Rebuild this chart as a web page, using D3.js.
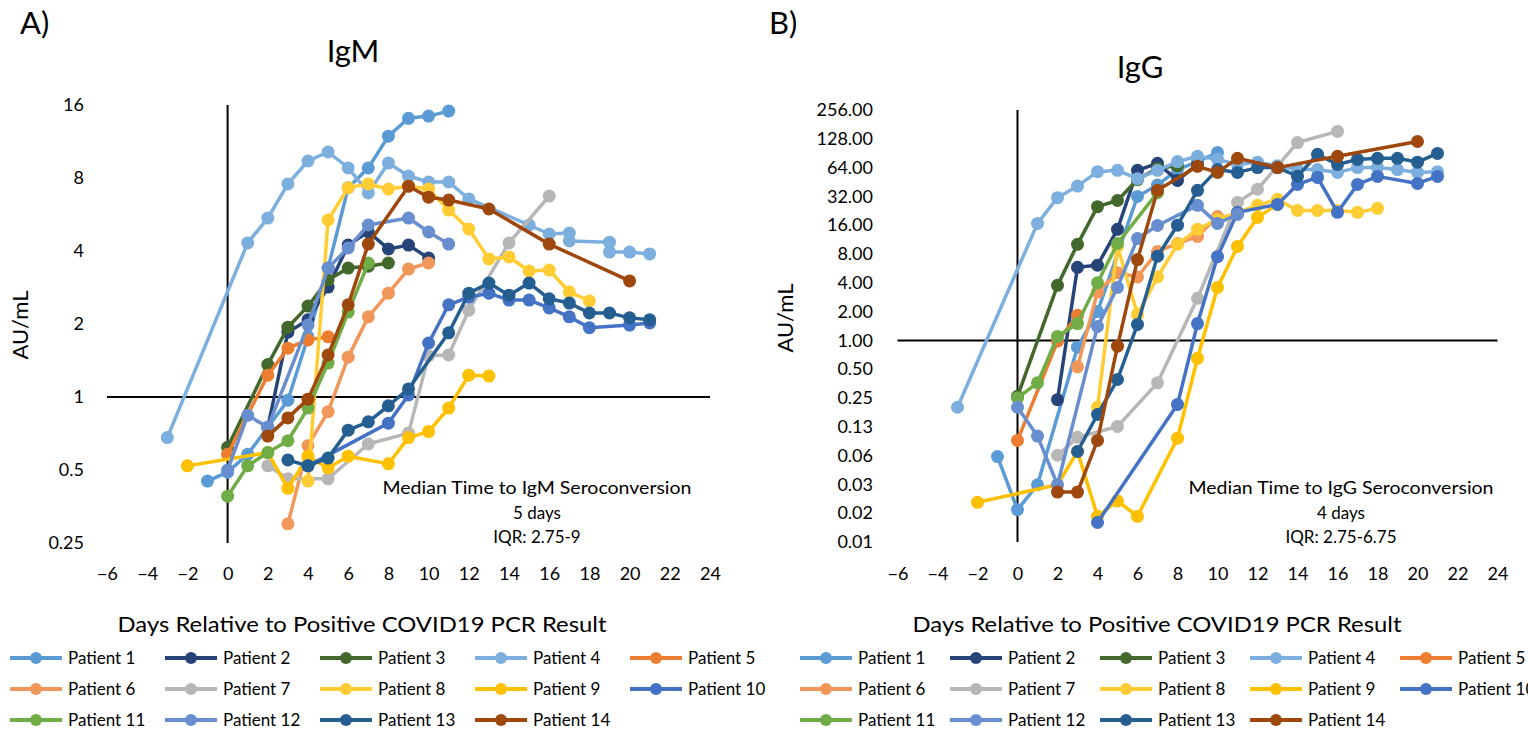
<!DOCTYPE html>
<html><head><meta charset="utf-8">
<script src="https://cdn.jsdelivr.net/npm/d3@7"></script>
<style>
body{margin:0;background:#fff;}
svg text{font-family:Lato,"Liberation Sans",sans-serif;fill:#000;}
</style></head>
<body><svg id="c" width="1528" height="734"></svg>
<script>
const patients = ["Patient 1","Patient 2","Patient 3","Patient 4","Patient 5","Patient 6","Patient 7",
  "Patient 8","Patient 9","Patient 10","Patient 11","Patient 12","Patient 13","Patient 14"];
const colors = ["#5B9BD5","#264478","#43682B","#7CAFDD","#ED7D31","#F1975A","#B7B7B7",
  "#FFCD33","#FFC000","#4472C4","#70AD47","#698ED0","#255E91","#9E480E"];

// IgM (AU/mL) by day relative to PCR: [day, value]
const igmP1 = [[-1,0.45],[0,0.49],[1,0.58],[3,0.97],[4,1.77],[5,3.4],[6,7.3],[7,8.8],[8,11.9],[9,14.1],[10,14.4],[11,15.1]];
const igmP2 = [[2,0.75],[3,1.85],[4,2.08],[5,2.84],[6,4.23],[7,4.8],[8,4.08],[9,4.23],[10,3.74]];
const igmP3 = [[0,0.62],[2,1.36],[3,1.94],[4,2.37],[5,3.04],[6,3.4],[7,3.46],[8,3.57]];
const igmP4 = [[-3,0.68],[1,4.32],[2,5.47],[3,7.56],[4,9.4],[5,10.24],[6,8.8],[7,6.94],[8,9.22],[9,8.15],[10,7.7],[11,7.7],[12,6.56],[15,5.12],[16,4.7],[17,4.74],[17,4.4],[19,4.35],[19,3.96],[20,3.96],[21,3.89]];
const igmP5 = [[0,0.58],[2,1.23],[3,1.59],[4,1.72],[5,1.77]];
const igmP6 = [[3,0.3],[4,0.63],[5,0.87],[6,1.46],[7,2.14],[8,2.68],[9,3.37],[10,3.57]];
const igmP7 = [[2,0.52],[3,0.46],[5,0.46],[7,0.64],[9,0.71],[10,1.48],[11,1.49],[12,2.28],[14,4.32],[16,6.74]];
const igmP8 = [[4,0.45],[5,5.37],[6,7.3],[7,7.56],[8,7.2],[9,7.4],[10,7.2],[11,5.9],[12,4.93],[13,3.71],[14,3.78],[15,3.31],[16,3.34],[17,2.71],[18,2.49]];
const igmP9 = [[-2,0.52],[2,0.59],[3,0.42],[4,0.57],[5,0.51],[6,0.57],[8,0.53],[9,0.68],[10,0.72],[11,0.9],[12,1.23],[13,1.22]];
const igmP10 = [[4,0.52],[8,0.78],[9,1.02],[10,1.67],[11,2.4],[12,2.58],[13,2.68],[14,2.51],[15,2.51],[16,2.33],[17,2.14],[18,1.93],[20,1.98],[21,2.02]];
const igmP11 = [[0,0.39],[1,0.52],[2,0.59],[3,0.66],[4,0.9],[5,1.38],[6,2.24],[7,3.57]];
const igmP12 = [[0,0.5],[1,0.84],[2,0.75],[4,1.98],[5,3.4],[6,4.12],[7,5.12],[9,5.47],[10,4.79],[11,4.27]];
const igmP13 = [[3,0.55],[4,0.52],[5,0.56],[6,0.73],[7,0.79],[8,0.92],[9,1.08],[11,1.84],[12,2.68],[13,2.95],[14,2.63],[15,2.95],[16,2.54],[17,2.44],[18,2.22],[19,2.22],[20,2.12],[21,2.08]];
const igmP14 = [[2,0.69],[3,0.82],[4,0.98],[5,1.49],[6,2.4],[7,4.27],[9,7.4],[10,6.67],[11,6.49],[13,5.96],[16,4.27],[20,3.01]];

// IgG (AU/mL) by day relative to PCR: [day, value]
const iggP1 = [[-1,0.061],[0,0.017],[1,0.031],[3,0.85],[4,2.0],[6,32],[7,42],[8,61],[9,74],[10,92]];
const iggP2 = [[2,0.24],[3,5.8],[4,6.1],[5,14.5],[6,60],[7,71],[8,47],[9,69]];
const iggP3 = [[0,0.26],[2,3.76],[3,10.1],[4,25],[5,29],[6,48],[7,63],[8,67]];
const iggP4 = [[-3,0.2],[1,16.7],[2,31],[3,41],[4,58],[5,60],[6,49],[7,60],[8,74],[9,84],[10,78],[11,69],[12,73],[13,67],[14,61],[15,61],[16,57],[17,64],[18,64],[19,61],[20,57],[21,58]];
const iggP5 = [[0,0.09],[2,0.98],[3,1.83]];
const iggP6 = [[3,0.53],[4,3.2],[5,5.1],[6,4.6],[7,8.5],[8,10.3],[9,12.2],[10,19.7]];
const iggP7 = [[2,0.063],[3,0.097],[5,0.126],[7,0.36],[9,2.75],[11,27.7],[12,38],[14,117],[16,153]];
const iggP8 = [[4,0.2],[5,9.6],[6,1.87],[7,4.6],[8,10.1],[9,14.5],[10,18.4],[11,21.8],[12,25.8],[13,29.8],[14,22.8],[15,22.8],[16,22.8],[17,21.8],[18,24]];
const iggP9 = [[-2,0.0203],[2,0.031],[3,0.069],[4,0.0145],[5,0.021],[6,0.0145],[8,0.095],[9,0.65],[10,3.58],[11,9.6],[12,19.3],[13,26.4]];
const iggP10 = [[4,0.0125],[8,0.214],[9,1.5],[10,7.5],[11,21.8],[13,26.4],[14,42.7],[15,50.5],[16,21.8],[17,42.7],[18,51.8],[20,43.7],[21,51.8]];
const iggP11 = [[0,0.25],[1,0.36],[2,1.1],[3,1.5],[4,4.0],[5,10.3],[7,35]];
const iggP12 = [[0,0.2],[1,0.1],[2,0.031],[4,1.4],[5,3.58],[6,11.6],[7,15.9],[9,25.8],[10,16.7],[11,20.7]];
const iggP13 = [[3,0.069],[4,0.168],[5,0.39],[6,1.47],[7,7.6],[8,16],[9,37],[10,61],[11,57],[12,64],[13,64],[14,52],[15,88],[16,69],[17,78],[18,80],[19,80],[20,73],[21,90]];
const iggP14 = [[2,0.026],[3,0.026],[4,0.09],[5,0.87],[6,7.0],[7,37],[9,66],[10,57],[11,80],[13,64],[16,84],[20,120]];

const dayTicks = [-6,-4,-2,0,2,4,6,8,10,12,14,16,18,20,22,24];
const igmTicks = [16,8,4,2,1,0.5,0.25];
const igmTickLabels = ["16","8","4","2","1","0.5","0.25"];
const iggTicks = [256,128,64,32,16,8,4,2,1,0.5,0.25,0.125,0.0625,0.03125,0.015625,0.0078125];
const iggTickLabels = ["256.00","128.00","64.00","32.00","16.00","8.00","4.00","2.00","1.00","0.50","0.25","0.13","0.06","0.03","0.02","0.01"];

const igmSeries = [igmP1,igmP2,igmP3,igmP4,igmP5,igmP6,igmP7,igmP8,igmP9,igmP10,igmP11,igmP12,igmP13,igmP14];
const iggSeries = [iggP1,iggP2,iggP3,iggP4,iggP5,iggP6,iggP7,iggP8,iggP9,iggP10,iggP11,iggP12,iggP13,iggP14];

const svg = d3.select("#c");

function panel(cfg){
  const g = svg.append("g");
  const x = d3.scaleLinear().domain([-6,24]).range(cfg.xr);
  const y = d3.scaleLog().base(2).domain(cfg.yd).range(cfg.yr);

  // letter + title
  g.append("text").attr("x",cfg.letterX).attr("y",34).attr("font-size",31).text(cfg.letter);
  g.append("text").attr("x",cfg.titleX).attr("y",cfg.titleY).attr("font-size",31).attr("text-anchor","middle").text(cfg.title);

  // y axis labels
  const ya = g.append("g").attr("transform",`translate(${cfg.yLabX},0)`)
    .call(d3.axisLeft(y).tickValues(cfg.ticks).tickSize(0).tickPadding(0)
      .tickFormat((d,i)=>cfg.tickLabels[i]));
  ya.select(".domain").remove();
  ya.selectAll("text").attr("font-size",18).attr("font-family","Lato").attr("fill","#000");

  // x axis labels
  const xa = g.append("g").attr("transform",`translate(0,567)`)
    .call(d3.axisBottom(x).tickValues(dayTicks).tickSize(0).tickPadding(0));
  xa.select(".domain").remove();
  xa.selectAll("text").attr("font-size",18).attr("font-family","Lato").attr("fill","#000");

  // crossing lines
  g.append("line").attr("x1",x(0)).attr("x2",x(0)).attr("y1",cfg.yr[1]).attr("y2",cfg.yr[0])
    .attr("stroke","#000").attr("stroke-width",2);
  g.append("line").attr("x1",x(-6)).attr("x2",x(24)).attr("y1",y(1)).attr("y2",y(1))
    .attr("stroke","#000").attr("stroke-width",2);

  // axis titles
  g.append("text").attr("transform",`translate(${cfg.auX},${cfg.auY}) rotate(-90)`)
    .attr("text-anchor","middle").attr("font-size",22).text("AU/mL");
  g.append("text").attr("x",cfg.dayTitleX).attr("y",632).attr("text-anchor","middle")
    .attr("font-size",22).attr("textLength",489).attr("lengthAdjust","spacingAndGlyphs")
    .text("Days Relative to Positive COVID19 PCR Result");

  // annotation
  cfg.note.forEach((t,i)=>{
    const tx = g.append("text").attr("x",cfg.noteX).attr("y",494+i*24.5).attr("text-anchor","middle")
      .attr("font-size",17).text(t);
    if(i===0) tx.attr("textLength",cfg.noteW).attr("lengthAdjust","spacingAndGlyphs");
  });

  // series
  const line = d3.line().x(d=>x(d[0])).y(d=>y(d[1]));
  cfg.series.forEach((s,i)=>{
    const sg = g.append("g");
    sg.append("path").attr("d",line(s)).attr("fill","none").attr("stroke",colors[i])
      .attr("stroke-width",3.5).attr("stroke-linejoin","round");
    sg.selectAll("circle").data(s).join("circle")
      .attr("cx",d=>x(d[0])).attr("cy",d=>y(d[1])).attr("r",6.5).attr("fill",colors[i]);
  });

  // legend
  patients.forEach((p,i)=>{
    const row = Math.floor(i/5), col = i%5;
    const lx = cfg.legX + col*cfg.legPitch, ly = 658 + row*31;
    const lg = g.append("g");
    lg.append("line").attr("x1",lx).attr("x2",lx+52).attr("y1",ly).attr("y2",ly)
      .attr("stroke",colors[i]).attr("stroke-width",4);
    lg.append("circle").attr("cx",lx+26).attr("cy",ly).attr("r",6).attr("fill",colors[i]);
    lg.append("text").attr("x",lx+58).attr("y",ly+6).attr("font-size",17).text(p);
  });
}

panel({letter:"A)",letterX:20,title:"IgM",titleX:353,titleY:62,
  xr:[107,710],yd:[0.25,16],yr:[543,105],ticks:igmTicks,tickLabels:igmTickLabels,yLabX:84,
  auX:28,auY:325,dayTitleX:362,noteX:537,noteW:309,
  note:["Median Time to IgM Seroconversion","5 days","IQR: 2.75-9"],
  series:igmSeries,legX:10,legPitch:155});

panel({letter:"B)",letterX:769,title:"IgG",titleX:1140,titleY:78,
  xr:[897.5,1497.5],yd:[0.0078125,256],yr:[542,110],ticks:iggTicks,tickLabels:iggTickLabels,yLabX:873,
  auX:793,auY:318,dayTitleX:1157,noteX:1341,noteW:305,
  note:["Median Time to IgG Seroconversion","4 days","IQR: 2.75-6.75"],
  series:iggSeries,legX:800,legPitch:150});
</script>
</body></html>
